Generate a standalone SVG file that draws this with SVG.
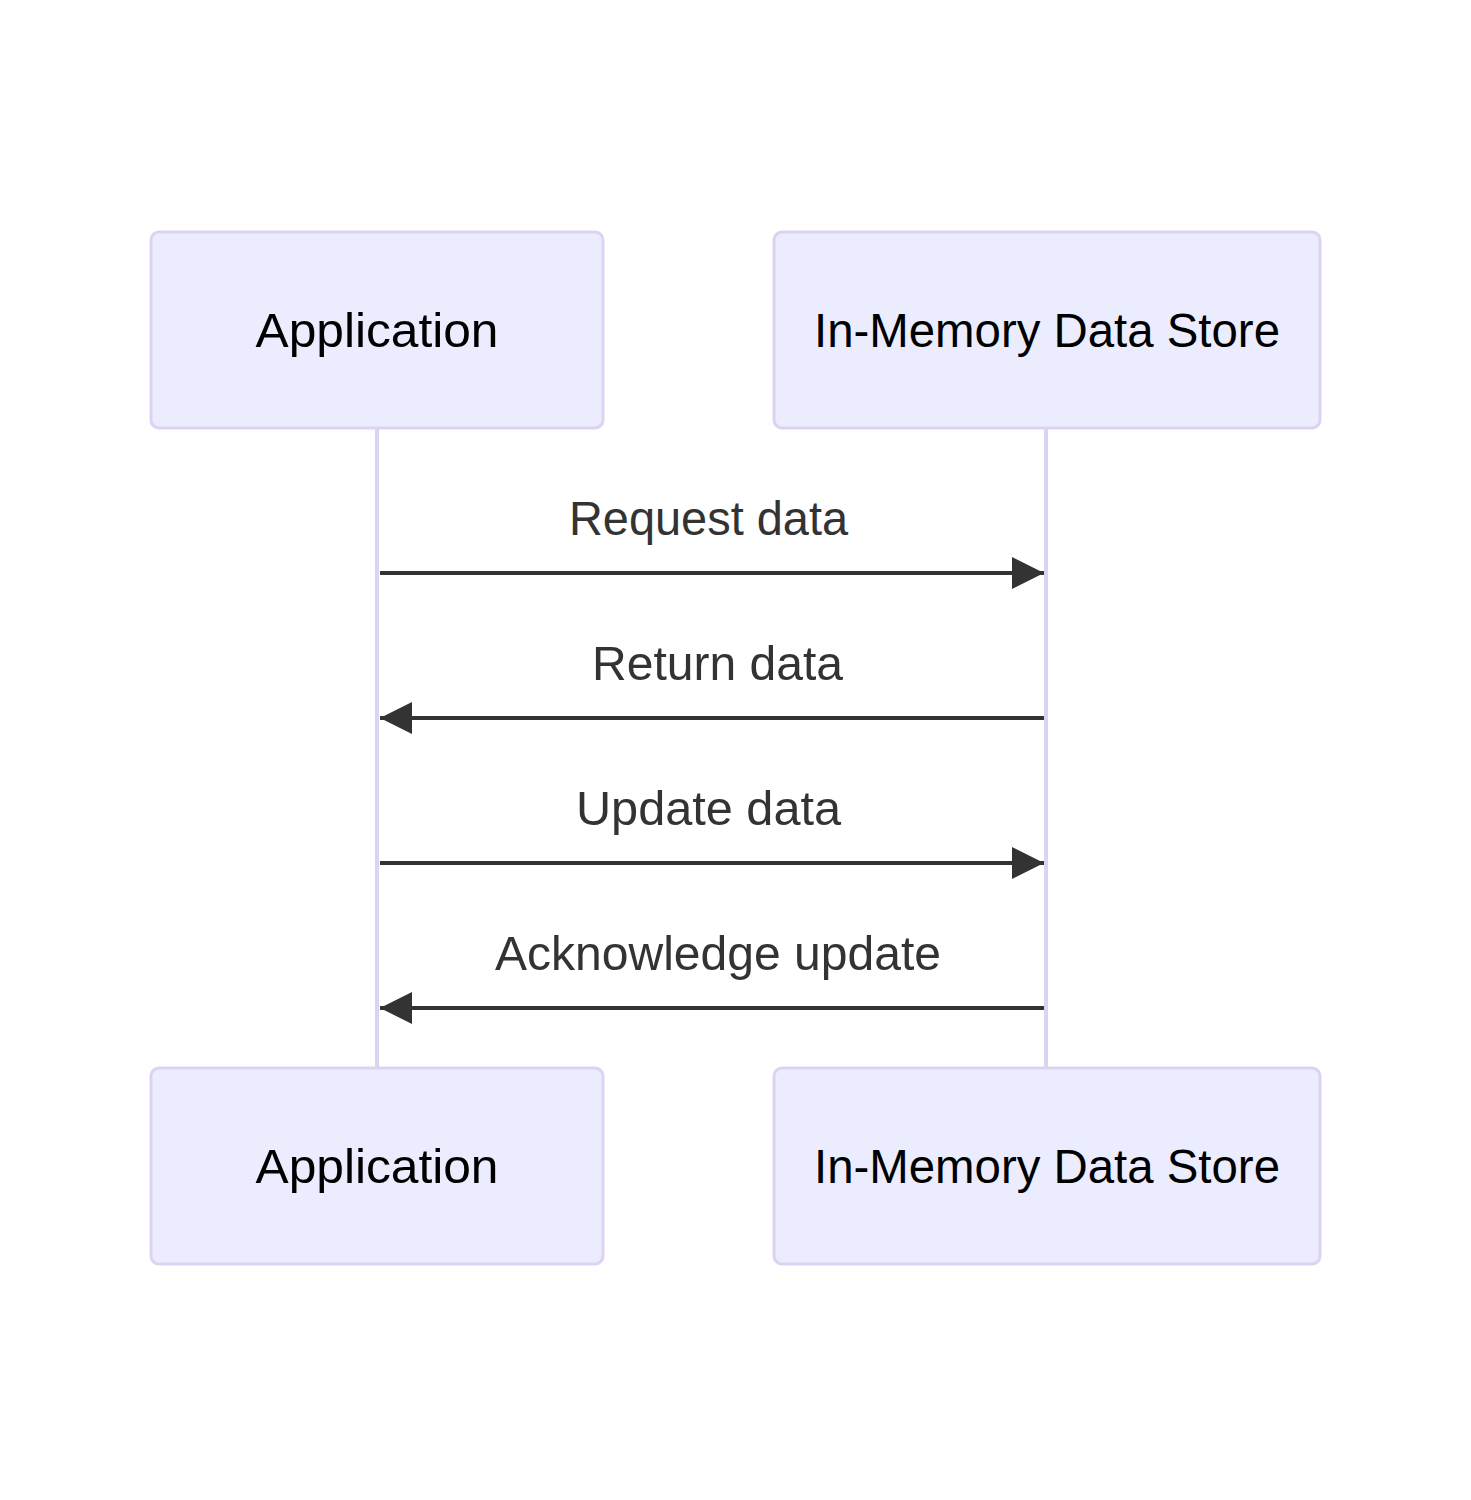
<svg xmlns="http://www.w3.org/2000/svg" width="1471" height="1500" viewBox="0 0 1471 1500">
<style>
.actor{fill:#ECECFF;stroke:#DCD3F2;stroke-width:3}
.atext{font-family:"Liberation Sans",Arial,sans-serif;font-size:48px;fill:#000;text-anchor:middle}
.life{stroke:#DCD3F2;stroke-width:4;fill:none}
.msg{stroke:#333;stroke-width:4;fill:none}
.mtext{font-family:"Liberation Sans",Arial,sans-serif;font-size:48px;fill:#333;text-anchor:middle}
</style>
<defs>
<marker id="arrow" viewBox="0 0 32 32" refX="32" refY="16" markerWidth="32" markerHeight="32" markerUnits="userSpaceOnUse" orient="auto">
<path d="M0,0 L32,16 L0,32 Z" fill="#333"/>
</marker>
</defs>
<rect width="1471" height="1500" fill="#fff"/>
<g id="lifelines">
<line class="life" x1="377" y1="428" x2="377" y2="1068"/>
<line class="life" x1="1046" y1="428" x2="1046" y2="1068"/>
</g>
<g id="app-top">
<rect class="actor" x="151" y="232" width="452" height="196" rx="8"/>
<text class="atext" x="377" y="347" textLength="243" lengthAdjust="spacingAndGlyphs">Application</text>
</g>
<g id="store-top">
<rect class="actor" x="774" y="232" width="546" height="196" rx="8"/>
<text class="atext" x="1047" y="347" textLength="466" lengthAdjust="spacingAndGlyphs">In-Memory Data Store</text>
</g>
<g id="app-bottom">
<rect class="actor" x="151" y="1068" width="452" height="196" rx="8"/>
<text class="atext" x="377" y="1183" textLength="243" lengthAdjust="spacingAndGlyphs">Application</text>
</g>
<g id="store-bottom">
<rect class="actor" x="774" y="1068" width="546" height="196" rx="8"/>
<text class="atext" x="1047" y="1183" textLength="466" lengthAdjust="spacingAndGlyphs">In-Memory Data Store</text>
</g>
<g id="connectors">
<line class="msg" x1="380" y1="573" x2="1044" y2="573" marker-end="url(#arrow)"/>
<text class="mtext" x="708.5" y="535" textLength="279" lengthAdjust="spacingAndGlyphs">Request data</text>
<line class="msg" x1="1044" y1="718" x2="380" y2="718" marker-end="url(#arrow)"/>
<text class="mtext" x="717.5" y="680" textLength="251" lengthAdjust="spacingAndGlyphs">Return data</text>
<line class="msg" x1="380" y1="863" x2="1044" y2="863" marker-end="url(#arrow)"/>
<text class="mtext" x="708.5" y="825" textLength="265" lengthAdjust="spacingAndGlyphs">Update data</text>
<line class="msg" x1="1044" y1="1008" x2="380" y2="1008" marker-end="url(#arrow)"/>
<text class="mtext" x="718" y="970" textLength="446" lengthAdjust="spacingAndGlyphs">Acknowledge update</text>
</g>
</svg>
